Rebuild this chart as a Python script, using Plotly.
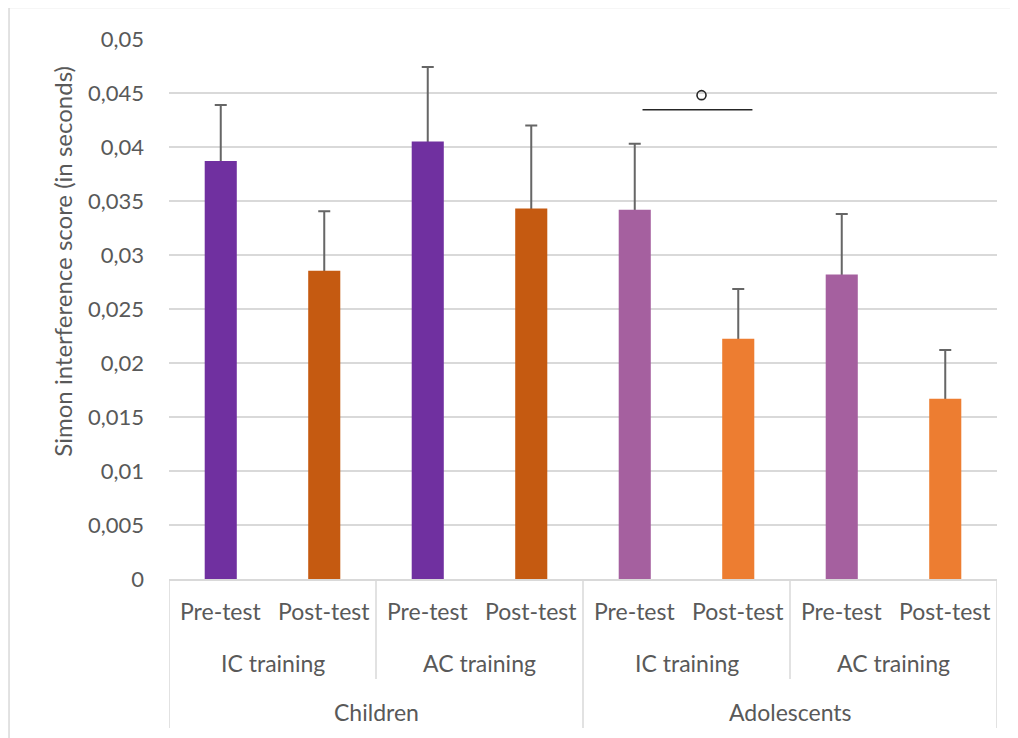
import plotly.graph_objects as go

# 資料
groups = ["Children", "Adolescents"]
trainings = ["IC training", "AC training", "IC training", "AC training"]
tests = ["Pre-test", "Post-test"] * 4
scores = [0.0387, 0.02855, 0.0405, 0.0343, 0.0342, 0.02225, 0.0282, 0.0167]
errors = [0.0052, 0.0055, 0.0069, 0.0077, 0.0061, 0.0046, 0.0056, 0.0045]
bar_colors = ["#7030A0", "#C55A11", "#7030A0", "#C55A11",
              "#A5609F", "#ED7D31", "#A5609F", "#ED7D31"]
y_ticks = [0, 0.005, 0.01, 0.015, 0.02, 0.025, 0.03, 0.035, 0.04, 0.045, 0.05]

FONT = "Lato"
GREY = "#595959"
LINE = "#d9d9d9"

x = list(range(len(scores)))

fig = go.Figure()
# 誤差線先畫（透明柱），再用實心柱蓋住下半段，只留上方誤差線
fig.add_trace(go.Bar(
    x=x,
    y=scores,
    width=0.31,
    marker=dict(color="rgba(0,0,0,0)", line=dict(width=0)),
    error_y=dict(type="data", array=errors, symmetric=True,
                 color="#666666", thickness=2, width=6),
    showlegend=False, hoverinfo="skip",
))
fig.add_trace(go.Bar(
    x=x,
    y=scores,
    width=0.31,
    marker=dict(color=bar_colors, line=dict(width=0)),
    showlegend=False,
))

# 顯著性標記
fig.add_shape(type="line", xref="x", yref="y", x0=4.075, x1=5.137,
              y0=0.04345, y1=0.04345, line=dict(color="#262626", width=1.5))
fig.add_trace(go.Scatter(
    x=[4.645], y=[0.0448], mode="markers",
    marker=dict(symbol="circle-open", size=9, color="#262626", line=dict(width=1.6)),
    showlegend=False, hoverinfo="skip",
))

ann = []
# 第一層: Pre/Post
for i, t in enumerate(tests):
    ann.append(dict(x=i, y=-0.060, xref="x", yref="paper", text=t, showarrow=False,
                    xanchor="center", yanchor="middle", font=dict(family=FONT, size=23, color=GREY)))
# 第二層: training
for j, t in enumerate(trainings):
    ann.append(dict(x=2 * j + 0.5, y=-0.155, xref="x", yref="paper", text=t, showarrow=False,
                    xanchor="center", yanchor="middle", font=dict(family=FONT, size=23, color=GREY)))
# 第三層: 年齡組
for k, g in enumerate(groups):
    ann.append(dict(x=4 * k + 1.5, y=-0.247, xref="x", yref="paper", text=g, showarrow=False,
                    xanchor="center", yanchor="middle", font=dict(family=FONT, size=23, color=GREY)))
# y 軸標題
ann.append(dict(x=-0.129, y=0.588, xref="paper", yref="paper", showarrow=False,
                xanchor="center", yanchor="middle",
                text="Simon interference score (in seconds)", textangle=-90,
                font=dict(family=FONT, size=24, color=GREY)))

shapes = []
for b in [-0.5, 3.5, 7.5]:
    shapes.append(dict(type="line", xref="x", yref="paper", x0=b, x1=b, y0=0, y1=-0.276,
                       line=dict(color=LINE, width=1.5)))
for b in [1.5, 5.5]:
    shapes.append(dict(type="line", xref="x", yref="paper", x0=b, x1=b, y0=0, y1=-0.185,
                       line=dict(color=LINE, width=1.5)))
# 外框
shapes.append(dict(type="rect", xref="paper", yref="paper", x0=-0.1932, x1=1.1,
                   y0=-0.4, y1=1.0583, line=dict(color=LINE, width=1.5)))
for s in shapes:
    fig.add_shape(**s)

# 頁面 body 有 8px 邊距，所以整張圖縮小 8px
fig.update_layout(
    width=1010, height=730,
    margin=dict(l=161, r=21, t=31, b=159),
    plot_bgcolor="white", paper_bgcolor="white",
    separators=", ",
    barmode="overlay",
    annotations=ann,
    xaxis=dict(range=[-0.5, 7.5], showticklabels=False, showgrid=False, zeroline=False,
               showline=True, linecolor=LINE, linewidth=1.5, ticks=""),
    yaxis=dict(range=[0, 0.05], tickvals=y_ticks, showgrid=True, gridcolor=LINE, gridwidth=1.5,
               zeroline=False, showline=False, ticks="", ticklabelstandoff=24,
               tickfont=dict(family=FONT, size=22, color=GREY)),
)

fig.write_html("out.html")
